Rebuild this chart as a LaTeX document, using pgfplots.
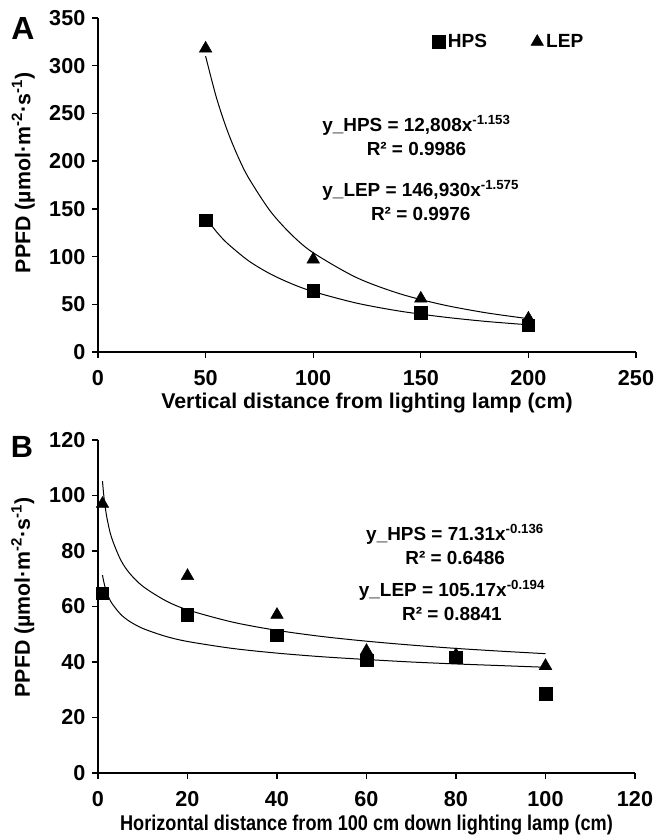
\documentclass[border=0pt]{standalone}
\usepackage{pgfplots}
\pgfplotsset{compat=1.18}
\usepackage{fontspec}
\setmainfont{Liberation Sans}

\newcommand\tickfont{\fontsize{16.2}{18}\selectfont\bfseries}
\pgfplotsset{
  panel/.style={
    scale only axis,
    anchor=south west,
    axis x line*=bottom,
    axis y line*=left,
    axis line style={line width=1pt, black},
    tick style={line width=1pt, black},
    tick align=outside,
    major tick length=4.5pt,
    /pgf/number format/assume math mode=true,
    every tick label/.append style={font=\tickfont},
    xticklabel style={font=\tickfont, yshift=-5.5pt},
    yticklabel style={font=\tickfont, xshift=-1.5pt},
    label style={font=\fontsize{16}{19}\selectfont\bfseries},
    clip=false,
  },
  hps/.style={only marks, mark=square*, mark size=4.7pt, black},
  lep/.style={only marks, mark=triangle*, mark size=5.4pt, black},
  fit/.style={black, line width=0.75pt, smooth, no marks, forget plot},
}
\tikzset{eq/.style={font=\fontsize{14.2}{18}\selectfont\bfseries, align=center}}

\begin{document}
\begin{tikzpicture}
\path[use as bounding box] (-73.5pt,-50.25pt) rectangle (417.75pt,579.75pt);

% panel A
\begin{axis}[
    panel,
    at={(0pt,315.75pt)},
    width=403.5pt, height=250.5pt,
    xmin=0, xmax=250, ymin=0, ymax=350,
    xtick={0,50,...,250}, ytick={0,50,...,350},
    xlabel={Vertical distance from lighting lamp (cm)},
    ylabel={PPFD (µmol·m\textsuperscript{-2}·s\textsuperscript{-1})},
    xlabel style={at={(axis description cs:0.5,-0.153)}, anchor=center},
    ylabel style={at={(axis description cs:-0.139,0.536)}, anchor=center},
    legend style={draw=none, fill=none, at={(axis cs:153.5,325)}, anchor=west,
      legend columns=2, font=\fontsize{14.3}{16}\selectfont\bfseries,
      /tikz/every even column/.append style={column sep=31pt}},
    legend image code/.code={\draw[#1] plot coordinates {(0pt,0pt)};},
  ]
\addplot[fit] coordinates {(50,140.8) (55,126.2) (60,114.1) (70,95.5) (80,81.9) (90,71.5) (100,63.3) (120,51.3) (140,42.9) (160,36.8) (180,32.1) (200,28.5)};
\addplot[fit] coordinates {(50,310.0) (55,266.8) (60,232.6) (65,205.0) (70,182.4) (80,147.8) (90,122.8) (100,104.0) (120,78.1) (140,61.2) (160,49.6) (180,41.2) (200,34.9)};
\addplot[hps] coordinates {(50,138) (100,64) (150,41) (200,28)};
\addplot[lep] coordinates {(50,318) (100,97) (150,56) (200,35)};
\legend{HPS, LEP}
\node[eq] at (axis cs:148,227) {y\_HPS = 12,808x\textsuperscript{-1.153}\\R² = 0.9986};
\node[eq] at (axis cs:150,159) {y\_LEP = 146,930x\textsuperscript{-1.575}\\R² = 0.9976};
\end{axis}

% panel B
\begin{axis}[
    panel,
    at={(0pt,0pt)},
    width=402.75pt, height=249.75pt,
    xmin=0, xmax=120, ymin=0, ymax=120,
    xtick={0,20,...,120}, ytick={0,20,...,120},
    xlabel={\scalebox{0.85}[1]{Horizontal distance from 100 cm down lighting lamp (cm)}},
    ylabel={PPFD (µmol·m\textsuperscript{-2}·s\textsuperscript{-1})},
    xlabel style={at={(axis description cs:0.5,-0.156)}, anchor=center},
    ylabel style={at={(axis description cs:-0.14,0.528)}, anchor=center},
  ]
\addplot[fit] coordinates {(1,71.3) (1.25,69.2) (1.5,67.5) (2,64.9) (3,61.4) (5,57.3) (7,54.7) (10,52.1) (15,49.3) (20,47.4) (30,44.9) (40,43.2) (50,41.9) (60,40.9) (70,40.0) (80,39.3) (90,38.7) (100,38.1)};
\addplot[fit] coordinates {(1,105.2) (1.25,100.7) (1.5,97.2) (2,91.9) (3,85.0) (5,77.0) (7,72.1) (10,67.3) (15,62.2) (20,58.8) (30,54.4) (40,51.4) (50,49.2) (60,47.5) (70,46.1) (80,44.9) (90,43.9) (100,43.0)};
\addplot[lep] coordinates {(1,97) (20,71) (40,57) (60,44) (80,42.5) (100,38.6)};
\addplot[hps] coordinates {(1,64.7) (20,57) (40,49.7) (60,40.7) (80,41.7) (100,28.5)};
\node[eq] at (axis cs:79.8,82.2) {y\_HPS = 71.31x\textsuperscript{-0.136}\\R² = 0.6486};
\node[eq] at (axis cs:79.1,62.3) {y\_LEP = 105.17x\textsuperscript{-0.194}\\R² = 0.8841};
\end{axis}

\node[font=\fontsize{24}{26}\selectfont\bfseries] at (-56.25pt,558.75pt) {A};
\node[font=\fontsize{23}{25}\selectfont\bfseries] at (-57pt,244.5pt) {B};
\end{tikzpicture}
\end{document}
